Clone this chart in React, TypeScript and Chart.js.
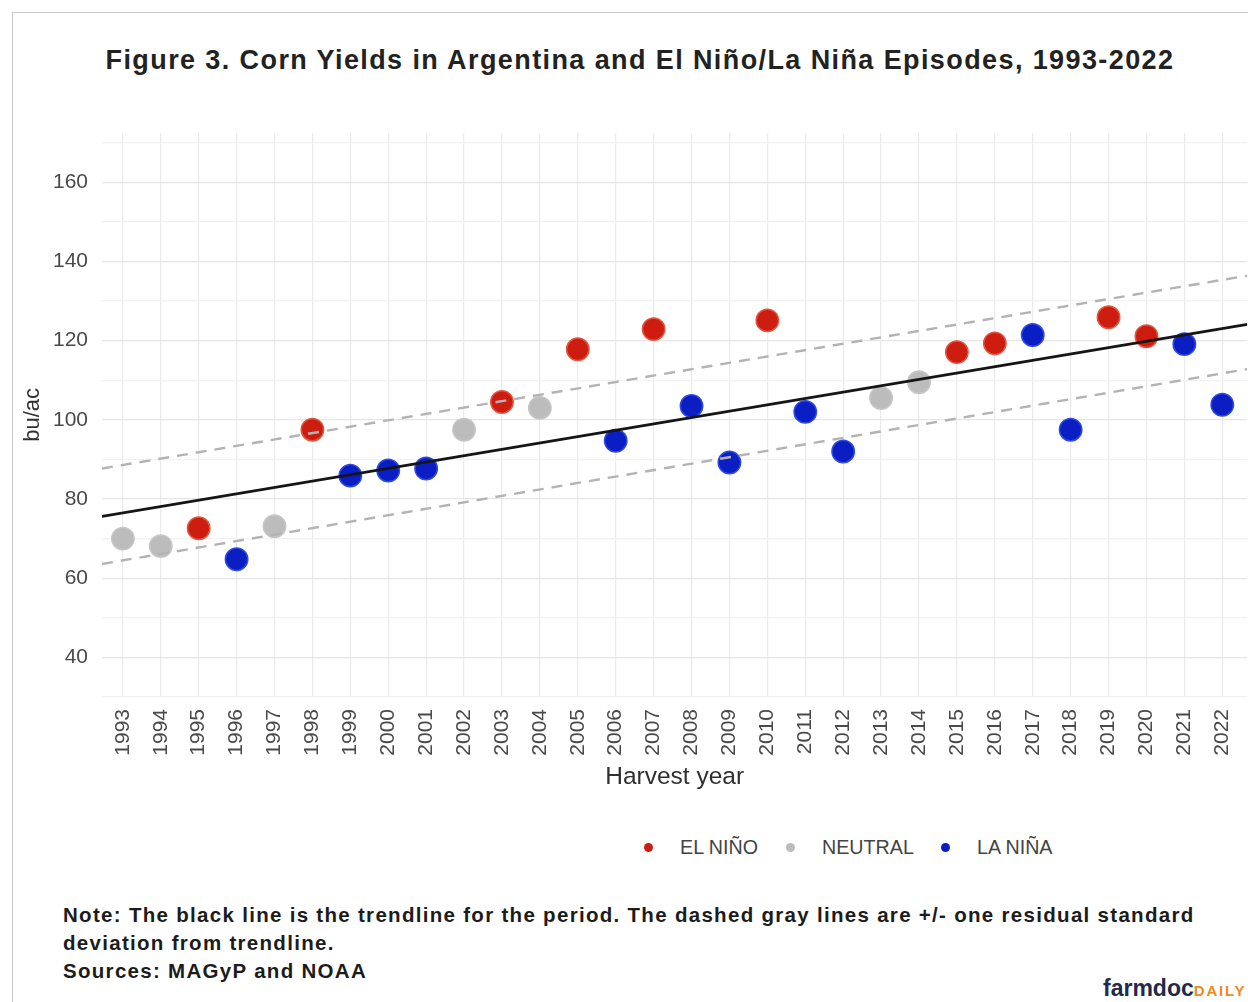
import React, { useEffect, useRef } from "react";
import { Chart, registerables } from "chart.js";

Chart.register(...registerables);

// ---- Data ----
const years = [
  1993, 1994, 1995, 1996, 1997, 1998, 1999, 2000, 2001, 2002,
  2003, 2004, 2005, 2006, 2007, 2008, 2009, 2010, 2011, 2012,
  2013, 2014, 2015, 2016, 2017, 2018, 2019, 2020, 2021, 2022,
];
const yields = [
  70.0, 68.1, 72.6, 64.8, 73.1, 97.5, 85.9, 87.2, 87.7, 97.5,
  104.5, 103.0, 117.8, 94.7, 122.9, 103.5, 89.2, 125.1, 102.0, 92.0,
  105.5, 109.5, 117.1, 119.3, 121.4, 97.5, 125.9, 121.1, 119.1, 103.8,
];
// E = El Niño, N = Neutral, L = La Niña
const phases = [
  "N", "N", "E", "L", "N", "E", "L", "L", "L", "N",
  "E", "N", "E", "L", "E", "L", "L", "E", "L", "L",
  "N", "N", "E", "E", "L", "L", "E", "E", "L", "L",
];
const legendLabels = ["EL NIÑO", "NEUTRAL", "LA NIÑA"];
const phaseKeys = ["E", "N", "L"];

// Trend lines (endpoints read at the plot edges)
const trendX = [1992.45, 2022.66];
const trendY = [75.6, 124.1];
const upperY = [87.7, 136.4];
const lowerY = [63.6, 112.8];

const yTickLabels = [40, 60, 80, 100, 120, 140, 160];

const phaseFill: Record<string, string> = { E: "#cc1d10", N: "#bcbcbc", L: "#0a1ec4" };
const phaseBorder: Record<string, string> = { E: "#e2553f", N: "#c6c6c6", L: "#2f4be0" };

const FONT = "'Liberation Sans', Arial, sans-serif";

function ChartCanvas() {
  const ref = useRef<HTMLCanvasElement | null>(null);
  useEffect(() => {
    if (!ref.current) return;
    const pts = (arrY: number[]) => trendX.map((x, i) => ({ x, y: arrY[i] }));
    const scatterSets = phaseKeys.map((k, idx) => ({
      type: "scatter" as const,
      label: legendLabels[idx],
      data: years
        .map((yr, i) => ({ x: yr, y: yields[i], p: phases[i] }))
        .filter((d) => d.p === k)
        .map((d) => ({ x: d.x, y: d.y })),
      backgroundColor: phaseFill[k],
      borderColor: phaseBorder[k],
      borderWidth: 1.5,
      pointRadius: 11.2,
      showLine: false,
    }));
    const lineSet = (label: string, arr: number[], color: string, dash: number[], w: number) => ({
      type: "scatter" as const,
      label,
      data: pts(arr),
      showLine: true,
      borderColor: color,
      borderWidth: w,
      borderDash: dash,
      pointRadius: 0,
      fill: false,
    });
    const chart = new Chart(ref.current, {
      type: "scatter",
      data: {
        datasets: [
          lineSet("Trend", trendY, "#151515", [], 2.6),
          lineSet("Upper", upperY, "#b3b3b3", [11, 8], 2.4),
          lineSet("Lower", lowerY, "#b3b3b3", [11, 8], 2.4),
          ...scatterSets,
        ] as any,
      },
      options: {
        animation: false,
        responsive: false,
        maintainAspectRatio: false,
        layout: { padding: { top: 11, right: 0, left: 0, bottom: 0 } },
        plugins: { legend: { display: false }, tooltip: { enabled: false } },
        scales: {
          x: {
            type: "linear",
            min: trendX[0],
            max: trendX[1],
            afterFit: (s: any) => {
              s.height = 103;
              s.paddingLeft = 0;
              s.paddingRight = 0;
            },
            border: { display: false },
            grid: { color: "#ebebeb", lineWidth: 1.2, drawTicks: false },
            ticks: {
              stepSize: 1,
              includeBounds: false,
              autoSkip: false,
              minRotation: 90,
              maxRotation: 90,
              padding: 12,
              color: "#4a4a4a",
              font: { family: FONT, size: 21 },
              callback: (v: any) => String(v),
            },
            title: {
              display: true,
              text: "Harvest year",
              color: "#303030",
              font: { family: FONT, size: 24.5 },
              padding: { top: 0, bottom: 8 },
            },
          },
          y: {
            type: "linear",
            min: 30,
            max: 172.5,
            afterFit: (s: any) => {
              s.width = 90;
              s.paddingTop = 0;
              s.paddingBottom = 0;
            },
            border: { display: false },
            grid: {
              drawTicks: false,
              color: (ctx: any) =>
                ctx.tick && yTickLabels.includes(ctx.tick.value) ? "#e6e6e6" : "#f2f2f2",
              lineWidth: 1.2,
            },
            ticks: {
              stepSize: 10,
              includeBounds: false,
              padding: 14,
              color: "#4a4a4a",
              font: { family: FONT, size: 21 },
              callback: (v: any) => (yTickLabels.includes(v) ? String(v) : ""),
            },
            title: {
              display: true,
              text: "bu/ac",
              color: "#303030",
              font: { family: FONT, size: 22 },
              padding: { top: 8, bottom: 0 },
            },
          },
        },
      },
    });
    return () => chart.destroy();
  }, []);
  return (
    <canvas
      ref={ref}
      width={1248}
      height={680}
      style={{ position: "absolute", left: 12, top: 120, width: 1248, height: 680 }}
    />
  );
}

export default function App() {
  const legendDots = [648, 790, 945];
  const legendText = [680, 822, 977];
  return (
    <div
      style={{
        position: "absolute",
        left: 0,
        top: 0,
        width: 1248,
        height: 1002,
        overflow: "hidden",
        background: "#ffffff",
        fontFamily: FONT,
      }}
    >
      <div
        style={{
          position: "absolute",
          left: 12,
          top: 12,
          width: 1300,
          height: 1100,
          borderLeft: "1px solid #c9c9c9",
          borderTop: "1px solid #c9c9c9",
        }}
      />
      <div
        style={{
          position: "absolute",
          left: 40,
          width: 1200,
          top: 45,
          lineHeight: "30px",
          textAlign: "center",
          whiteSpace: "nowrap",
          fontSize: 27,
          letterSpacing: 1.4,
          fontWeight: "bold",
          color: "#222",
        }}
      >
        Figure 3. Corn Yields in Argentina and El Niño/La Niña Episodes, 1993-2022
      </div>
      <ChartCanvas />
      {legendLabels.map((lab, i) => (
        <React.Fragment key={lab}>
          <div
            style={{
              position: "absolute",
              left: legendDots[i] - 4.5,
              top: 847 - 4.5,
              width: 9,
              height: 9,
              borderRadius: "50%",
              background: phaseFill[phaseKeys[i]],
            }}
          />
          <div
            style={{
              position: "absolute",
              left: legendText[i],
              top: 835,
              lineHeight: "24px",
              fontSize: 19.7,
              color: "#444",
              whiteSpace: "nowrap",
            }}
          >
            {lab}
          </div>
        </React.Fragment>
      ))}
      <div
        style={{
          position: "absolute",
          left: 63,
          top: 901,
          lineHeight: "28px",
          fontSize: 20.5,
          letterSpacing: 1.3,
          fontWeight: "bold",
          color: "#1c1c1c",
          whiteSpace: "nowrap",
        }}
      >
        Note: The black line is the trendline for the period. The dashed gray lines are +/- one residual standard
        <br />
        deviation from trendline.
        <br />
        Sources: MAGyP and NOAA
      </div>
      <div
        style={{
          position: "absolute",
          left: 1103,
          top: 974,
          lineHeight: "28px",
          whiteSpace: "nowrap",
          fontWeight: "bold",
        }}
      >
        <span style={{ fontSize: 23, color: "#1f2b4a" }}>farmdoc</span>
        <span style={{ fontSize: 15, color: "#ef8a25", letterSpacing: 1.8 }}>DAILY</span>
      </div>
    </div>
  );
}
